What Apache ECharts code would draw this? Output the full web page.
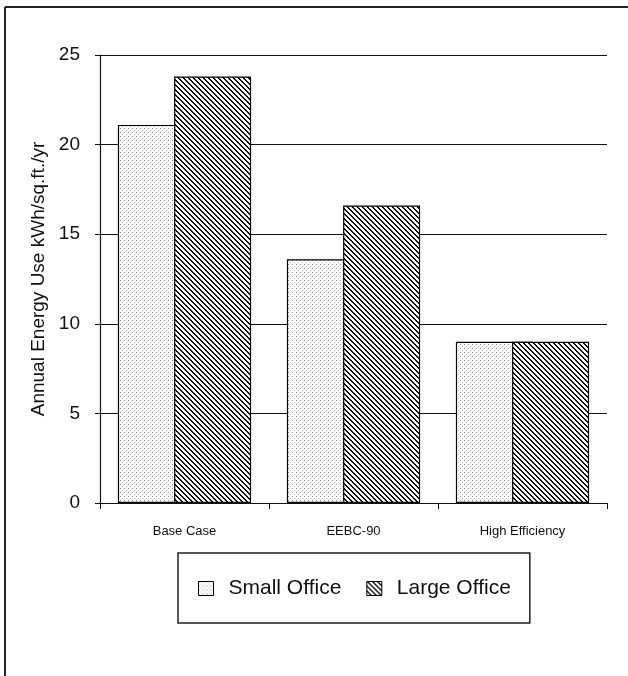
<!DOCTYPE html>
<html>
<head>
<meta charset="utf-8">
<script src="https://cdn.jsdelivr.net/npm/echarts@6/dist/echarts.min.js"></script>
<style>
  html, body { margin: 0; padding: 0; background: #fff; }
  #chart { width: 628px; height: 676px; }
</style>
</head>
<body>
<div id="chart"></div>
<script>
// Annual energy use per building type and design standard
const categories = ['Base Case', 'EEBC-90', 'High Efficiency'];
const smallOffice = [21.1, 13.6, 9.0];
const largeOffice = [23.8, 16.6, 9.0];
const yTicks = [0, 5, 10, 15, 20, 25];

// Light stipple fill
function dotPattern() {
  const c = document.createElement('canvas');
  c.width = 4; c.height = 4;
  const ctx = c.getContext('2d');
  ctx.fillStyle = '#fff';
  ctx.fillRect(0, 0, 4, 4);
  ctx.fillStyle = '#8a8a8a';
  ctx.fillRect(0, 0, 1, 1);
  ctx.fillStyle = '#b5b5b5';
  ctx.fillRect(2, 2, 1, 1);
  return c;
}

// Dense diagonal hatching running top-left to bottom-right
function hatchPattern() {
  const n = 5;
  const c = document.createElement('canvas');
  c.width = n; c.height = n;
  const ctx = c.getContext('2d');
  const img = ctx.createImageData(n, n);
  for (let y = 0; y < n; y++) {
    for (let x = 0; x < n; x++) {
      const k = (((x - y) % n) + n) % n;
      const v = k < 2 ? 15 : 255;
      const i = (y * n + x) * 4;
      img.data[i] = v; img.data[i + 1] = v; img.data[i + 2] = v; img.data[i + 3] = 255;
    }
  }
  ctx.putImageData(img, 0, 0);
  return c;
}

const font = 'Liberation Sans, Arial, sans-serif';
const chart = echarts.init(document.getElementById('chart'), null, { renderer: 'canvas' });

chart.setOption({
  animation: false,
  backgroundColor: '#fff',
  textStyle: { fontFamily: font, color: '#000' },
  grid: { left: 100, right: 21, top: 55, bottom: 173, containLabel: false },
  legend: {
    left: 178,
    top: 553,
    padding: [25, 19, 24, 20],
    borderColor: '#222',
    borderWidth: 1.5,
    icon: 'rect',
    itemWidth: 15,
    itemHeight: 14,
    itemGap: 25,
    textStyle: { fontFamily: font, fontSize: 21, color: '#111', padding: [0, 0, 0, 10] },
    itemStyle: { borderColor: '#000', borderWidth: 1 },
    data: ['Small Office', 'Large Office']
  },
  xAxis: {
    type: 'category',
    data: categories,
    axisLine: { lineStyle: { color: '#111', width: 1.2 } },
    axisTick: { show: true, length: 6, lineStyle: { color: '#111' } },
    axisLabel: { fontSize: 13, color: '#111', margin: 22, fontFamily: font }
  },
  yAxis: {
    type: 'value',
    min: yTicks[0],
    max: yTicks[yTicks.length - 1],
    interval: yTicks[1] - yTicks[0],
    name: 'Annual Energy Use kWh/sq.ft./yr',
    nameLocation: 'middle',
    nameGap: 52,
    nameTextStyle: { fontSize: 19, color: '#111', fontFamily: font },
    axisLine: { show: true, lineStyle: { color: '#111', width: 1.2 } },
    axisTick: { show: true, length: 5, lineStyle: { color: '#111' } },
    axisLabel: { fontSize: 19, color: '#111', margin: 20, fontFamily: font },
    splitLine: { show: true, lineStyle: { color: '#111', width: 1.2 } }
  },
  series: [
    {
      name: 'Small Office',
      type: 'bar',
      data: smallOffice,
      barWidth: 77,
      barGap: '-27%',
      itemStyle: {
        color: { image: dotPattern(), repeat: 'repeat' },
        borderColor: '#000',
        borderWidth: 1.2
      }
    },
    {
      name: 'Large Office',
      type: 'bar',
      data: largeOffice,
      barWidth: 77,
      barGap: '-27%',
      itemStyle: {
        color: { image: hatchPattern(), repeat: 'repeat' },
        borderColor: '#000',
        borderWidth: 1.2
      }
    }
  ],
  graphic: [
    { type: 'line', shape: { x1: 5, y1: 7, x2: 5, y2: 676 }, style: { stroke: '#222', lineWidth: 2 } },
    { type: 'line', shape: { x1: 5, y1: 7, x2: 628, y2: 7 }, style: { stroke: '#222', lineWidth: 2 } }
  ]
});
</script>
</body>
</html>
